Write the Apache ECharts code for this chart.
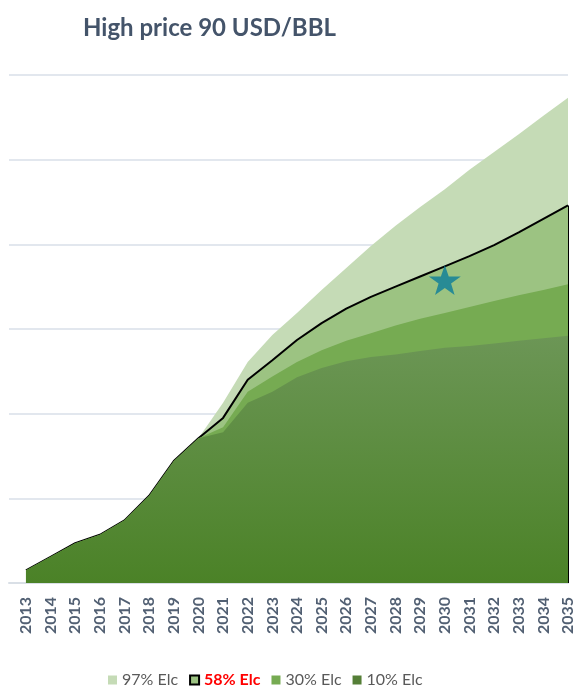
<!DOCTYPE html>
<html>
<head>
<meta charset="utf-8">
<script src="https://cdn.jsdelivr.net/npm/echarts@6/dist/echarts.min.js"></script>
<style>
html,body{margin:0;padding:0;background:#fff;}
#chart{width:576px;height:689px;}
</style>
</head>
<body>
<div id="chart"></div>
<script>
const titleText = 'High price 90 USD/BBL';
const years = [2013,2014,2015,2016,2017,2018,2019,2020,2021,2022,2023,2024,2025,2026,2027,2028,2029,2030,2031,2032,2033,2034,2035];
const seriesNames = ['97% Elc','58% Elc','30% Elc','10% Elc'];
const elc97 = [0.15,0.31,0.47,0.57,0.74,1.03,1.44,1.71,2.13,2.61,2.93,3.19,3.46,3.72,3.98,4.22,4.44,4.65,4.88,5.09,5.30,5.52,5.73];
const elc58 = [0.15,0.31,0.47,0.57,0.74,1.03,1.44,1.71,1.95,2.40,2.63,2.87,3.07,3.24,3.38,3.50,3.62,3.74,3.86,3.99,4.14,4.30,4.46];
const elc30 = [0.15,0.31,0.47,0.57,0.74,1.03,1.44,1.71,1.84,2.26,2.44,2.61,2.75,2.86,2.95,3.04,3.12,3.19,3.26,3.33,3.40,3.46,3.53];
const elc10 = [0.15,0.31,0.47,0.57,0.74,1.03,1.44,1.71,1.78,2.13,2.26,2.43,2.54,2.62,2.67,2.70,2.74,2.78,2.80,2.83,2.86,2.89,2.92];
const starYear = [2030];
const starValue = [3.58];

const pair = arr => years.map((y,i)=>[y, arr[i]]);
const starPath = 'path://M50,0 L61.8,35.1 L98.1,35.1 L68.8,56.7 L79.4,91 L50,70 L20.6,91 L31.2,56.7 L1.9,35.1 L38.2,35.1 Z';

const chart = echarts.init(document.getElementById('chart'), null, {renderer:'canvas'});
chart.setOption({
  animation:false,
  backgroundColor:'#ffffff',
  title:{
    text:titleText, left:78, top:11,
    textStyle:{fontFamily:'Lato', fontWeight:'bold', fontSize:24, color:'#44546a'}
  },
  legend:{
    data:[
      {name:seriesNames[0]},
      {name:seriesNames[1], itemStyle:{borderColor:'#000000', borderWidth:2}},
      {name:seriesNames[2]},
      {name:seriesNames[3]}
    ],
    left:103, top:667, icon:'rect', itemWidth:9, itemHeight:9, itemGap:11,
    itemStyle:{borderWidth:0},
    textStyle:{fontFamily:'Lato', fontSize:16, color:'#595959',
      rich:{r:{fontFamily:'Lato', fontSize:16, fontWeight:'bold', color:'#ff0000'}}},
    formatter: n => n === seriesNames[1] ? '{r|' + n + '}' : n
  },
  grid:{left:9, right:7, top:75, bottom:106, containLabel:false},
  xAxis:{
    type:'value', min:2012.311, max:2035, minInterval:1, maxInterval:1, splitNumber:23,
    axisLine:{show:true, lineStyle:{color:'#d9dfe6', width:2}},
    axisTick:{show:false}, splitLine:{show:false},
    axisLabel:{
      rotate:90, margin:14, showMinLabel:false,
      fontFamily:'Lato', fontWeight:'bold', fontSize:16, color:'#526073',
      formatter: v => Number.isInteger(v) ? String(v) : ''
    }
  },
  yAxis:{
    type:'value', min:0, max:6, interval:1,
    axisLine:{show:false}, axisTick:{show:false}, axisLabel:{show:false},
    splitLine:{show:true, lineStyle:{color:'#e2e7ee', width:2}}
  },
  series:[
    {name:seriesNames[0], type:'line', z:1, data:pair(elc97), showSymbol:false, symbol:'none',
     color:'#c5dbb6', lineStyle:{width:0}, areaStyle:{color:'#c5dbb6', opacity:1}},
    {name:seriesNames[1], type:'line', z:2, data:pair(elc58), showSymbol:false, symbol:'none',
     color:'#9cc382', lineStyle:{width:2, color:'#000000'}, areaStyle:{color:'#9cc382', opacity:1},
     markLine:{silent:true, z:2, symbol:['none','none'], label:{show:false},
       lineStyle:{color:'#000000', width:2, type:'solid'},
       data:[[{coord:[years[years.length-1], elc58[elc58.length-1]]},{coord:[years[years.length-1], 0]}]]}},
    {name:seriesNames[2], type:'line', z:3, data:pair(elc30), showSymbol:false, symbol:'none',
     color:'#76ab52', lineStyle:{width:0}, areaStyle:{color:'#76ab52', opacity:1}},
    {name:seriesNames[3], type:'line', z:4, data:pair(elc10), showSymbol:false, symbol:'none',
     color:'#557f37', lineStyle:{width:0},
     areaStyle:{opacity:1, color:new echarts.graphic.LinearGradient(0,0,0,1,[
       {offset:0, color:'#6c9656'},{offset:1, color:'#4b8227'}])}},
    {name:'star', type:'scatter', z:5, data:starYear.map((y,i)=>[y, starValue[i]]),
     symbol:starPath, symbolSize:[32,30], itemStyle:{color:'#0b7d9a'}, silent:true}
  ]
});
</script>
</body>
</html>
